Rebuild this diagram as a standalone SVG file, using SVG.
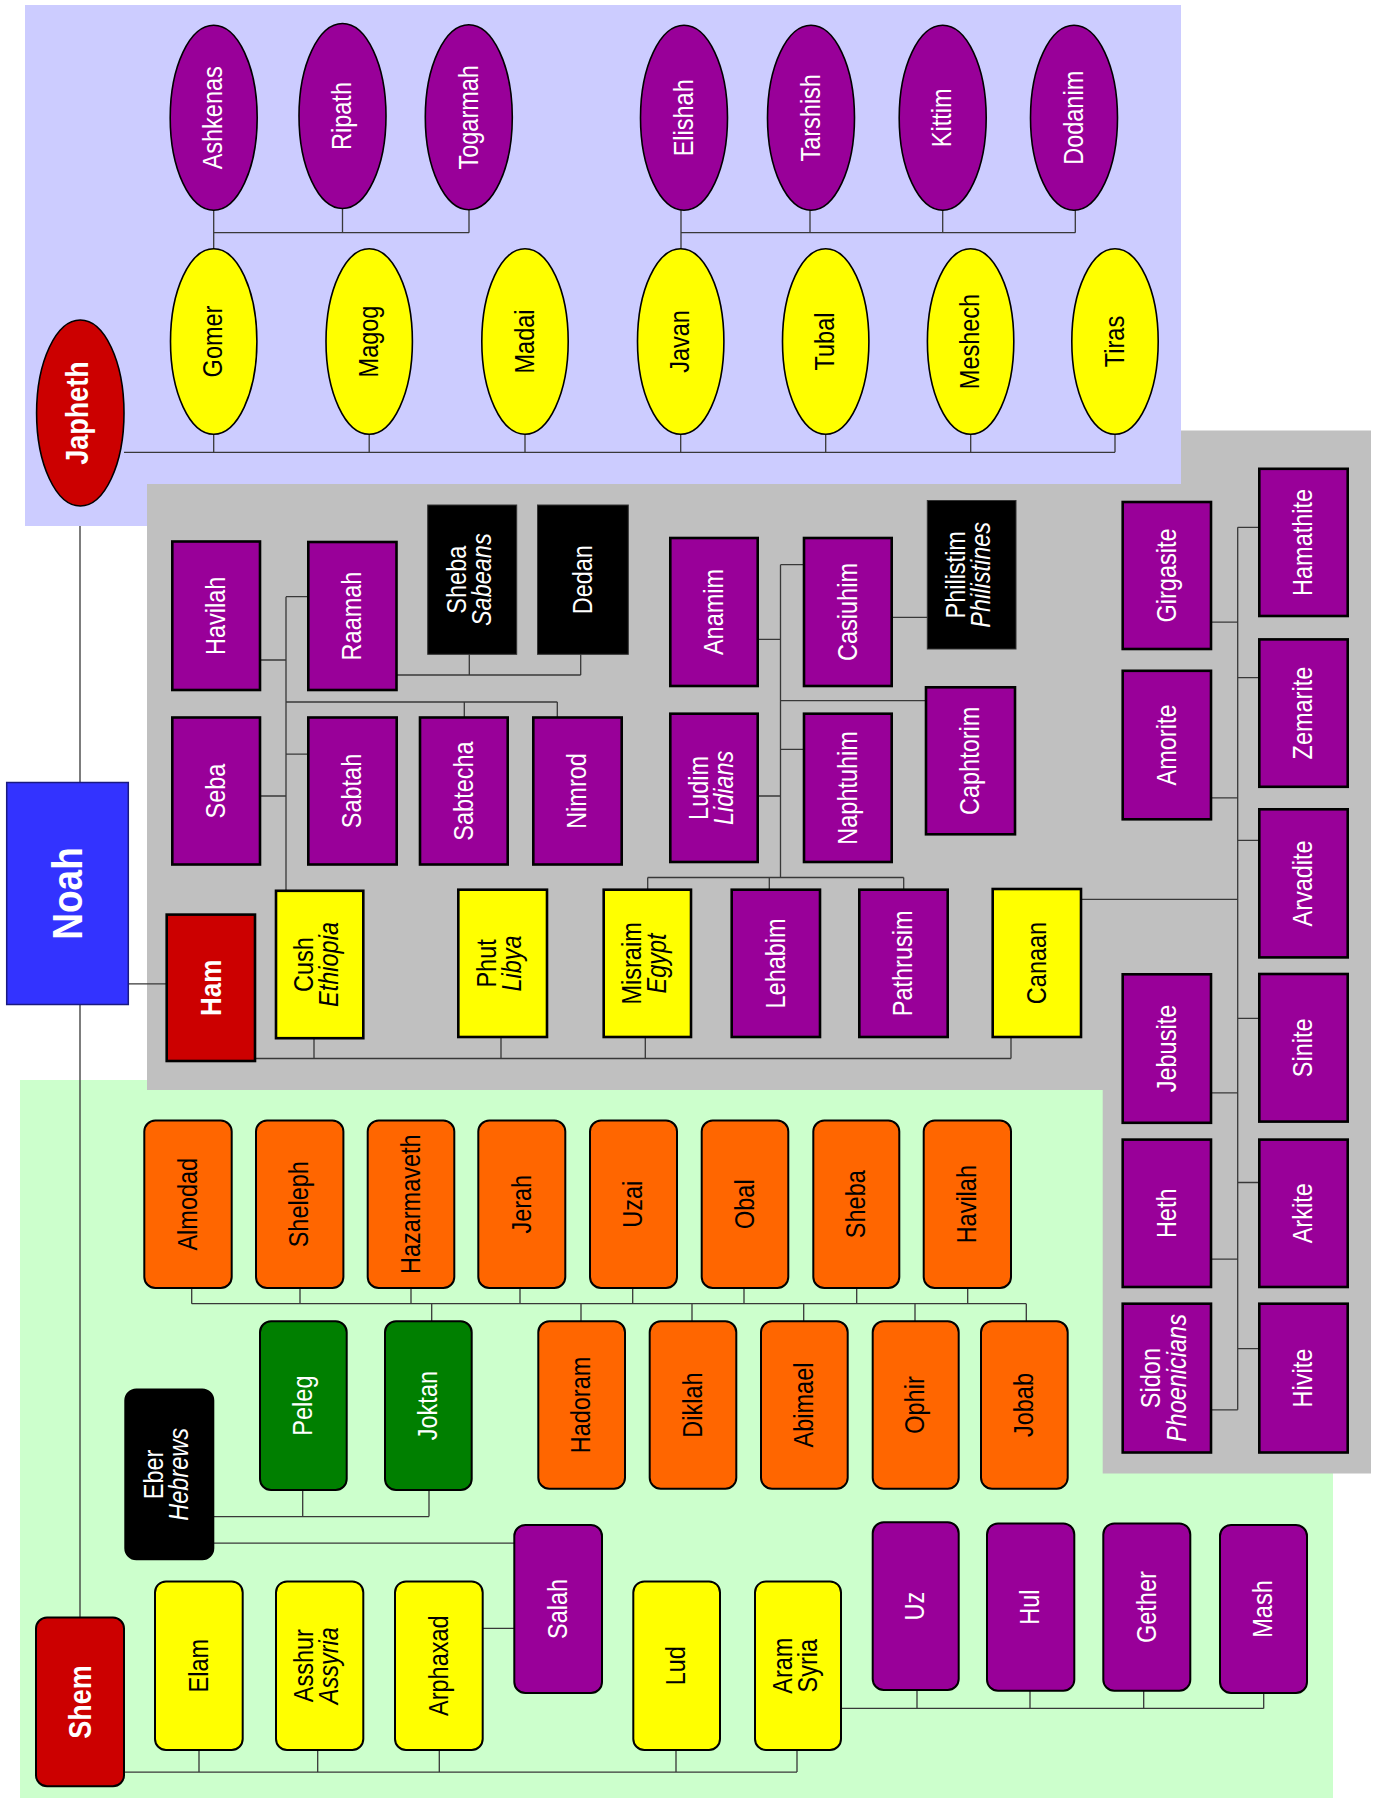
<svg xmlns="http://www.w3.org/2000/svg" width="1382" height="1798" viewBox="0 0 1382 1798">
<style>
.bgj{fill:#CCCCFF}.bgh{fill:#C0C0C0}.bgs{fill:#CCFFCC}
.pu{fill:#990099}.ye{fill:#FFFF00}.or{fill:#FF6600}.gr{fill:#007F00}.re{fill:#CC0000}.bk{fill:#000}.bl{fill:#3333FF}
.el{stroke:#000;stroke-width:1.6}
.sq{stroke:#000;stroke-width:2.6}
.rr{stroke:#000;stroke-width:2}
.nb{stroke:#1a1a80;stroke-width:1.5}
text{font-family:"Liberation Sans",Arial,sans-serif;font-size:23.5px;text-anchor:middle}
.w{fill:#fff}.k{fill:#000}
.b{font-weight:bold}
.i{font-style:italic}
#connectors path{stroke:#383838;stroke-width:1.3;fill:none}
</style>
<rect class="bgj" x="0" y="0" width="1382" height="1798" style="fill:#fff"/>
<g id="backgrounds">
<rect class="bgj" x="25" y="5" width="1156" height="521"/>
<rect class="bgs" x="20" y="1080" width="1313" height="718"/>
<path class="bgh" d="M147,484 H1181 V430.5 H1371 V1473.5 H1102.7 V1090 H147 Z"/>
</g>
<g id="connectors">
<path d="M124,452.3 H1115 M213.7,434.3 V452.3 M369.2,434.3 V452.3 M525,434.3 V452.3 M680.7,434.3 V452.3 M825.7,434.3 V452.3 M970.7,434.3 V452.3 M1115,434.3 V452.3"/>
<path d="M213.7,210.5 V248.8 M213.7,232.7 H469 M342.5,208.6 V232.7 M469,209.7 V232.7"/>
<path d="M681,210 V249 M681,232.7 H1075.3 M810,210 V232.7 M942.7,210 V232.7 M1075.3,210 V232.7"/>
<path d="M80,526 V782.5 M80,1004.5 V1617.6 M128.3,983.8 H166.7"/>
<path d="M255,1058.5 H1011 M314,1038.2 V1058.5 M501,1037 V1058.5 M645.3,1037 V1058.5 M1011,1037 V1058.5"/>
<path d="M286,596.7 V890.8 M286,596.7 H308.3 M260,660 H286 M286,702 H557.3 M464.3,702 V717.5 M557.3,702 V717.5 M286,754.2 H308.3 M260,796 H286"/>
<path d="M396.5,675 H580.7 M469.3,654.3 V675 M580.7,654.3 V675"/>
<path d="M780.5,564.7 V877.5 M780.5,564.7 H804 M757.7,639.3 H780.5 M780.5,700.7 H926 M780.5,749.3 H804 M757.7,796 H780.5 M647.7,877.5 H903.7 M647.7,877.5 V889.7 M769.3,877.5 V889.7 M903.7,877.5 V889.7 M891.7,617.3 H927.3"/>
<path d="M1237.7,527.3 V1409.8 M1237.7,527.3 H1259.3 M1237.7,677.7 H1259.3 M1237.7,840.3 H1259.3 M1237.7,1018.3 H1259.3 M1237.7,1182.5 H1259.3 M1237.7,1348.7 H1259.3 M1211,622.2 H1237.7 M1211,797.9 H1237.7 M1211,1092.9 H1237.7 M1211,1259.1 H1237.7 M1211,1409.8 H1237.7 M1081,899.3 H1237.7"/>
<path d="M124,1772.1 H797 M199,1750 V1772.1 M317.7,1750 V1772.1 M439.3,1750 V1772.1 M676,1750 V1772.1 M797,1750 V1772.1"/>
<path d="M482.7,1628.3 H514.3 M213.3,1543.2 H514.3 M213.3,1516.6 H429 M302.7,1490 V1516.6 M429,1490 V1516.6"/>
<path d="M431.7,1303.7 V1321.3 M191.7,1303.7 H1026.3 M191.7,1288 V1303.7 M300,1288 V1303.7 M411,1288 V1303.7 M520,1288 V1303.7 M632.7,1288 V1303.7 M744,1288 V1303.7 M856.7,1288 V1303.7 M967.7,1288 V1303.7 M581,1303.7 V1321.3 M692,1303.7 V1321.3 M803.7,1303.7 V1321.3 M915,1303.7 V1321.3 M1026.3,1303.7 V1321.3"/>
<path d="M841,1708.4 H1263.7 M917,1690 V1708.4 M1030,1690.8 V1708.4 M1143.7,1690.8 V1708.4 M1263.7,1693 V1708.4"/>
</g>

<g id="noah"><rect class="bl nb" x="6.7" y="782.5" width="121.6" height="222"/><text class="w b" style="font-size:37px" transform="matrix(0,-1,1.17,0,67.5,893.5)" y="12">Noah</text></g>

<g id="japheth"><ellipse class="re el" cx="80.3" cy="413" rx="43.7" ry="93"/><text class="w b" style="font-size:27px" transform="matrix(0,-1,1.17,0,80.3,413)" y="7">Japheth</text></g>
<g id="ashkenas"><ellipse class="pu el" cx="213.7" cy="117.8" rx="43.5" ry="92.5"/><text class="w" transform="matrix(0,-1,1.17,0,213.7,117.8)" y="7.5">Ashkenas</text></g>
<g id="ripath"><ellipse class="pu el" cx="342.5" cy="116" rx="43.5" ry="92.5"/><text class="w" transform="matrix(0,-1,1.17,0,342.5,116)" y="7.5">Ripath</text></g>
<g id="togarmah"><ellipse class="pu el" cx="468.8" cy="117.3" rx="43.5" ry="92.5"/><text class="w" transform="matrix(0,-1,1.17,0,468.8,117.3)" y="7.5">Togarmah</text></g>
<g id="elishah"><ellipse class="pu el" cx="684" cy="117.8" rx="43.5" ry="92.5"/><text class="w" transform="matrix(0,-1,1.17,0,684,117.8)" y="7.5">Elishah</text></g>
<g id="tarshish"><ellipse class="pu el" cx="811" cy="117.8" rx="43.5" ry="92.5"/><text class="w" transform="matrix(0,-1,1.17,0,811,117.8)" y="7.5">Tarshish</text></g>
<g id="kittim"><ellipse class="pu el" cx="942.7" cy="117.8" rx="43.5" ry="92.5"/><text class="w" transform="matrix(0,-1,1.17,0,942.7,117.8)" y="7.5">Kittim</text></g>
<g id="dodanim"><ellipse class="pu el" cx="1074" cy="117.8" rx="43.5" ry="92.5"/><text class="w" transform="matrix(0,-1,1.17,0,1074,117.8)" y="7.5">Dodanim</text></g>
<g id="gomer"><ellipse class="ye el" cx="213.7" cy="341.5" rx="43.2" ry="92.7"/><text class="k" transform="matrix(0,-1,1.17,0,213.7,341.5)" y="7.5">Gomer</text></g>
<g id="magog"><ellipse class="ye el" cx="369.2" cy="341.5" rx="43.2" ry="92.7"/><text class="k" transform="matrix(0,-1,1.17,0,369.2,341.5)" y="7.5">Magog</text></g>
<g id="madai"><ellipse class="ye el" cx="525" cy="341.5" rx="43.2" ry="92.7"/><text class="k" transform="matrix(0,-1,1.17,0,525,341.5)" y="7.5">Madai</text></g>
<g id="javan"><ellipse class="ye el" cx="680.7" cy="341.5" rx="43.2" ry="92.7"/><text class="k" transform="matrix(0,-1,1.17,0,680.7,341.5)" y="7.5">Javan</text></g>
<g id="tubal"><ellipse class="ye el" cx="825.7" cy="341.5" rx="43.2" ry="92.7"/><text class="k" transform="matrix(0,-1,1.17,0,825.7,341.5)" y="7.5">Tubal</text></g>
<g id="meshech"><ellipse class="ye el" cx="970.6" cy="341.5" rx="43.2" ry="92.7"/><text class="k" transform="matrix(0,-1,1.17,0,970.6,341.5)" y="7.5">Meshech</text></g>
<g id="tiras"><ellipse class="ye el" cx="1115" cy="341.5" rx="43.2" ry="92.7"/><text class="k" transform="matrix(0,-1,1.17,0,1115,341.5)" y="7.5">Tiras</text></g>

<g id="ham"><rect class="re sq" x="166.7" y="914.6" width="88.3" height="146.4"/><text class="w b" style="font-size:26px" transform="matrix(0,-1,1.17,0,210.8,987.8)" y="8.5">Ham</text></g>
<g id="cush"><rect class="ye sq" x="276" y="890.8" width="87.3" height="147.4"/><text class="k" transform="matrix(0,-1,1.17,0,319.7,964.5)"><tspan x="0" y="-5.5">Cush</tspan><tspan class="i" x="0" y="16">Ethiopia</tspan></text></g>
<g id="phut"><rect class="ye sq" x="458.3" y="889.7" width="88.7" height="147.3"/><text class="k" transform="matrix(0,-1,1.17,0,502.7,963.4)"><tspan x="0" y="-5.5">Phut</tspan><tspan class="i" x="0" y="16">Libya</tspan></text></g>
<g id="misraim"><rect class="ye sq" x="603.7" y="889.7" width="87.3" height="147.3"/><text class="k" transform="matrix(0,-1,1.17,0,647.3,963.4)"><tspan x="0" y="-5.5">Misraim</tspan><tspan class="i" x="0" y="16">Egypt</tspan></text></g>
<g id="lehabim"><rect class="pu sq" x="731.7" y="889.7" width="88.3" height="147.3"/><text class="w" transform="matrix(0,-1,1.17,0,775.8,963.4)" y="7.5">Lehabim</text></g>
<g id="pathrusim"><rect class="pu sq" x="859.3" y="889.7" width="88.4" height="147.3"/><text class="w" transform="matrix(0,-1,1.17,0,903.5,963.4)" y="7.5">Pathrusim</text></g>
<g id="canaan"><rect class="ye sq" x="992.7" y="889" width="88.3" height="148"/><text class="k" transform="matrix(0,-1,1.17,0,1036.8,963)" y="7.5">Canaan</text></g>
<g id="havilah-h"><rect class="pu sq" x="172.3" y="541.5" width="87.7" height="148.5"/><text class="w" transform="matrix(0,-1,1.17,0,216.2,615.8)" y="7.5">Havilah</text></g>
<g id="raamah"><rect class="pu sq" x="308.3" y="542" width="88.2" height="148"/><text class="w" transform="matrix(0,-1,1.17,0,352.4,616)" y="7.5">Raamah</text></g>
<g id="sheba-h"><rect class="bk" x="427.7" y="505" width="89" height="149.3" stroke="#333" stroke-width="1"/><text class="w" transform="matrix(0,-1,1.17,0,472.2,579.7)"><tspan x="0" y="-5.5">Sheba</tspan><tspan class="i" x="0" y="16">Sabeans</tspan></text></g>
<g id="dedan"><rect class="bk" x="537.5" y="505" width="90.8" height="149.3" stroke="#333" stroke-width="1"/><text class="w" transform="matrix(0,-1,1.17,0,582.9,579.7)" y="7.5">Dedan</text></g>
<g id="seba"><rect class="pu sq" x="172.3" y="717.5" width="87.7" height="147"/><text class="w" transform="matrix(0,-1,1.17,0,216.2,791)" y="7.5">Seba</text></g>
<g id="sabtah"><rect class="pu sq" x="308.3" y="717.5" width="88.4" height="147"/><text class="w" transform="matrix(0,-1,1.17,0,352.5,791)" y="7.5">Sabtah</text></g>
<g id="sabtecha"><rect class="pu sq" x="420" y="717.5" width="87.7" height="147"/><text class="w" transform="matrix(0,-1,1.17,0,463.9,791)" y="7.5">Sabtecha</text></g>
<g id="nimrod"><rect class="pu sq" x="533.3" y="717.5" width="88.4" height="147"/><text class="w" transform="matrix(0,-1,1.17,0,577.5,791)" y="7.5">Nimrod</text></g>
<g id="anamim"><rect class="pu sq" x="670.3" y="538" width="87.4" height="148"/><text class="w" transform="matrix(0,-1,1.17,0,714,612)" y="7.5">Anamim</text></g>
<g id="casiuhim"><rect class="pu sq" x="804" y="538" width="87.7" height="148"/><text class="w" transform="matrix(0,-1,1.17,0,847.9,612)" y="7.5">Casiuhim</text></g>
<g id="philistim"><rect class="bk" x="927.3" y="500.5" width="88.7" height="148.5" stroke="#333" stroke-width="1"/><text class="w" transform="matrix(0,-1,1.17,0,971.7,574.8)"><tspan x="0" y="-5.5">Philistim</tspan><tspan class="i" x="0" y="16">Philistines</tspan></text></g>
<g id="ludim"><rect class="pu sq" x="670.3" y="713.7" width="87.4" height="148.3"/><text class="w" transform="matrix(0,-1,1.17,0,714,787.9)"><tspan x="0" y="-5.5">Ludim</tspan><tspan class="i" x="0" y="16">Lidians</tspan></text></g>
<g id="naphtuhim"><rect class="pu sq" x="804" y="713.7" width="87.7" height="148.3"/><text class="w" transform="matrix(0,-1,1.17,0,847.9,787.9)" y="7.5">Naphtuhim</text></g>
<g id="caphtorim"><rect class="pu sq" x="926" y="687.3" width="89" height="147"/><text class="w" transform="matrix(0,-1,1.17,0,970.5,760.8)" y="7.5">Caphtorim</text></g>
<g id="girgasite"><rect class="pu sq" x="1122.7" y="502" width="88.3" height="147"/><text class="w" transform="matrix(0,-1,1.17,0,1166.9,575.5)" y="7.5">Girgasite</text></g>
<g id="hamathite"><rect class="pu sq" x="1259.3" y="468.8" width="88.4" height="147.2"/><text class="w" transform="matrix(0,-1,1.17,0,1303.5,542.4)" y="7.5">Hamathite</text></g>
<g id="amorite"><rect class="pu sq" x="1122.7" y="670.8" width="88.3" height="148.5"/><text class="w" transform="matrix(0,-1,1.17,0,1166.9,745)" y="7.5">Amorite</text></g>
<g id="zemarite"><rect class="pu sq" x="1259.3" y="639.4" width="88.4" height="147.4"/><text class="w" transform="matrix(0,-1,1.17,0,1303.5,713.1)" y="7.5">Zemarite</text></g>
<g id="arvadite"><rect class="pu sq" x="1259.3" y="809.3" width="88.4" height="148.1"/><text class="w" transform="matrix(0,-1,1.17,0,1303.5,883.4)" y="7.5">Arvadite</text></g>
<g id="jebusite"><rect class="pu sq" x="1122.7" y="974.3" width="88.3" height="148.5"/><text class="w" transform="matrix(0,-1,1.17,0,1166.9,1048.5)" y="7.5">Jebusite</text></g>
<g id="sinite"><rect class="pu sq" x="1259.3" y="974" width="88.4" height="147.6"/><text class="w" transform="matrix(0,-1,1.17,0,1303.5,1047.8)" y="7.5">Sinite</text></g>
<g id="heth"><rect class="pu sq" x="1122.7" y="1139.6" width="88.3" height="147.4"/><text class="w" transform="matrix(0,-1,1.17,0,1166.9,1213.3)" y="7.5">Heth</text></g>
<g id="arkite"><rect class="pu sq" x="1259.3" y="1139.6" width="88.4" height="147.4"/><text class="w" transform="matrix(0,-1,1.17,0,1303.5,1213.3)" y="7.5">Arkite</text></g>
<g id="sidon"><rect class="pu sq" x="1122.7" y="1303.7" width="88.3" height="148.8"/><text class="w" transform="matrix(0,-1,1.17,0,1166.9,1378.1)"><tspan x="0" y="-5.5">Sidon</tspan><tspan class="i" x="0" y="16">Phoenicians</tspan></text></g>
<g id="hivite"><rect class="pu sq" x="1259.3" y="1303.7" width="88.4" height="148.8"/><text class="w" transform="matrix(0,-1,1.17,0,1303.5,1378.1)" y="7.5">Hivite</text></g>

<g id="shem"><rect class="re rr" x="36" y="1617.6" width="88" height="168.6" rx="11"/><text class="w b" style="font-size:27px" transform="matrix(0,-1,1.17,0,80,1701.9)" y="9">Shem</text></g>
<g id="elam"><rect class="ye rr" x="155" y="1581.4" width="87.7" height="168.6" rx="11"/><text class="k" transform="matrix(0,-1,1.17,0,198.8,1665.7)" y="7.5">Elam</text></g>
<g id="asshur"><rect class="ye rr" x="276" y="1581.4" width="87.3" height="168.6" rx="11"/><text class="k" transform="matrix(0,-1,1.17,0,319.7,1665.7)"><tspan x="0" y="-5.5">Asshur</tspan><tspan class="i" x="0" y="16">Assyria</tspan></text></g>
<g id="arphaxad"><rect class="ye rr" x="395" y="1581.4" width="87.7" height="168.6" rx="11"/><text class="k" transform="matrix(0,-1,1.17,0,438.8,1665.7)" y="7.5">Arphaxad</text></g>
<g id="lud"><rect class="ye rr" x="633.3" y="1581.4" width="86.7" height="168.6" rx="11"/><text class="k" transform="matrix(0,-1,1.17,0,676.7,1665.7)" y="7.5">Lud</text></g>
<g id="aram"><rect class="ye rr" x="755" y="1581.4" width="86" height="168.6" rx="11"/><text class="k" transform="matrix(0,-1,1.17,0,798,1665.7)"><tspan x="0" y="-5.5">Aram</tspan><tspan x="0" y="16">Syria</tspan></text></g>
<g id="salah"><rect class="pu rr" x="514.3" y="1525" width="87.7" height="168" rx="11"/><text class="w" transform="matrix(0,-1,1.17,0,558.2,1609)" y="7.5">Salah</text></g>
<g id="uz"><rect class="pu rr" x="872.7" y="1522.3" width="86" height="167.7" rx="11"/><text class="w" transform="matrix(0,-1,1.17,0,915.7,1606.2)" y="7.5">Uz</text></g>
<g id="hul"><rect class="pu rr" x="987" y="1523.4" width="87.3" height="167.4" rx="11"/><text class="w" transform="matrix(0,-1,1.17,0,1030.7,1607.1)" y="7.5">Hul</text></g>
<g id="gether"><rect class="pu rr" x="1103.3" y="1523.4" width="87" height="167.4" rx="11"/><text class="w" transform="matrix(0,-1,1.17,0,1146.8,1607.1)" y="7.5">Gether</text></g>
<g id="mash"><rect class="pu rr" x="1220" y="1525" width="87" height="168" rx="11"/><text class="w" transform="matrix(0,-1,1.17,0,1263.5,1609)" y="7.5">Mash</text></g>
<g id="eber"><rect class="bk rr" x="125.3" y="1389.5" width="88" height="169.8" rx="11"/><text class="w" transform="matrix(0,-1,1.17,0,169.3,1474.4)"><tspan x="0" y="-5.5">Eber</tspan><tspan class="i" x="0" y="16">Hebrews</tspan></text></g>
<g id="peleg"><rect class="gr rr" x="260" y="1321.3" width="86.7" height="168.6" rx="11"/><text class="w" transform="matrix(0,-1,1.17,0,303.3,1405.6)" y="7.5">Peleg</text></g>
<g id="joktan"><rect class="gr rr" x="385" y="1321.3" width="86.7" height="168.6" rx="11"/><text class="w" transform="matrix(0,-1,1.17,0,428.3,1405.6)" y="7.5">Joktan</text></g>
<g id="almodad"><rect class="or rr" x="144.3" y="1120.5" width="87.4" height="167.5" rx="11"/><text class="k" transform="matrix(0,-1,1.17,0,188,1204.2)" y="7.5">Almodad</text></g>
<g id="sheleph"><rect class="or rr" x="256" y="1120.5" width="87.4" height="167.5" rx="11"/><text class="k" transform="matrix(0,-1,1.17,0,299.7,1204.2)" y="7.5">Sheleph</text></g>
<g id="hazarmaveth"><rect class="or rr" x="367.7" y="1120.5" width="86.6" height="167.5" rx="11"/><text class="k" transform="matrix(0,-1,1.17,0,411,1204.2)" y="7.5">Hazarmaveth</text></g>
<g id="jerah"><rect class="or rr" x="478.3" y="1120.5" width="87" height="167.5" rx="11"/><text class="k" transform="matrix(0,-1,1.17,0,521.8,1204.2)" y="7.5">Jerah</text></g>
<g id="uzai"><rect class="or rr" x="590" y="1120.5" width="87" height="167.5" rx="11"/><text class="k" transform="matrix(0,-1,1.17,0,633.5,1204.2)" y="7.5">Uzai</text></g>
<g id="obal"><rect class="or rr" x="701.7" y="1120.5" width="86.6" height="167.5" rx="11"/><text class="k" transform="matrix(0,-1,1.17,0,745,1204.2)" y="7.5">Obal</text></g>
<g id="sheba-s"><rect class="or rr" x="813.3" y="1120.5" width="86" height="167.5" rx="11"/><text class="k" transform="matrix(0,-1,1.17,0,856.3,1204.2)" y="7.5">Sheba</text></g>
<g id="havilah-s"><rect class="or rr" x="923.7" y="1120.5" width="87.3" height="167.5" rx="11"/><text class="k" transform="matrix(0,-1,1.17,0,967.4,1204.2)" y="7.5">Havilah</text></g>
<g id="hadoram"><rect class="or rr" x="538.3" y="1321.3" width="86.7" height="167.4" rx="11"/><text class="k" transform="matrix(0,-1,1.17,0,581.7,1405)" y="7.5">Hadoram</text></g>
<g id="diklah"><rect class="or rr" x="649.7" y="1321.3" width="86.6" height="167.4" rx="11"/><text class="k" transform="matrix(0,-1,1.17,0,693,1405)" y="7.5">Diklah</text></g>
<g id="abimael"><rect class="or rr" x="761" y="1321.3" width="86.7" height="167.4" rx="11"/><text class="k" transform="matrix(0,-1,1.17,0,804.3,1405)" y="7.5">Abimael</text></g>
<g id="ophir"><rect class="or rr" x="872.7" y="1321.3" width="86" height="167.4" rx="11"/><text class="k" transform="matrix(0,-1,1.17,0,915.7,1405)" y="7.5">Ophir</text></g>
<g id="jobab"><rect class="or rr" x="981" y="1321.3" width="86.7" height="167.4" rx="11"/><text class="k" transform="matrix(0,-1,1.17,0,1024.3,1405)" y="7.5">Jobab</text></g>
</svg>
